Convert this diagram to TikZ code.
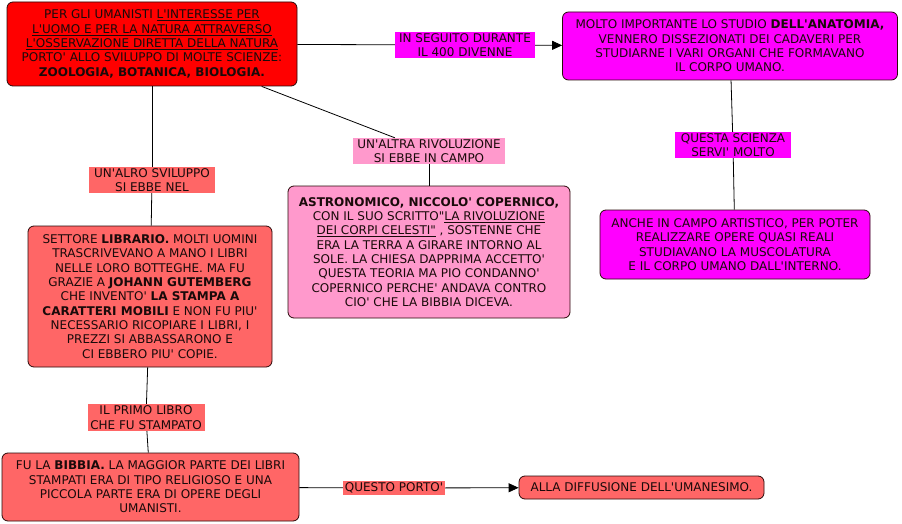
\documentclass[tikz,border=0pt]{standalone}
\usepackage{fontspec}
\newfontfamily\dv{DejaVu Sans}
\usetikzlibrary{arrows.meta}
\definecolor{cRed}{HTML}{FF0000}
\definecolor{cMag}{HTML}{FF00FF}
\definecolor{cPink}{HTML}{FF99CC}
\definecolor{cSal}{HTML}{FF6666}
\definecolor{cBord}{HTML}{2A0A0A}
\definecolor{cTxt}{HTML}{1A0A0A}
\newcommand\mainf{\dv\fontsize{12}{14.3}\selectfont}
\tikzset{
  box/.style={draw=cBord, line width=0.8pt, rounded corners=6pt, align=center,
    inner sep=0pt, text=cTxt, font=\mainf},
  lab/.style={inner sep=0pt, align=center, text=cTxt, font=\mainf},
  conn/.style={draw=black, line width=0.8pt},
  arr/.style={conn, -{Triangle[length=10pt,width=9pt]}}
}
\begin{document}
\begin{tikzpicture}[x=1pt,y=-1pt]
\useasboundingbox (0,0) rectangle (902,524);
\fill[white] (0,0) rectangle (902,524);

% boxes
\node[box, fill=cRed, minimum width=290pt, minimum height=84pt] (A) at (152,44)
  {PER GLI UMANISTI \underline{L'INTERESSE PER}\\
   \underline{L'UOMO E PER LA NATURA ATTRAVERSO}\\
   \underline{L'OSSERVAZIONE DIRETTA DELLA NATURA}\\
   PORTO' ALLO SVILUPPO DI MOLTE SCIENZE:\\
   \textbf{ZOOLOGIA, BOTANICA, BIOLOGIA.}};
\node[box, fill=cMag, minimum width=335pt, minimum height=68pt] (B) at (730,46)
  {MOLTO IMPORTANTE LO STUDIO \textbf{DELL'ANATOMIA,}\\
   VENNERO DISSEZIONATI DEI CADAVERI PER\\
   STUDIARNE I VARI ORGANI CHE FORMAVANO\\
   IL CORPO UMANO.};
\node[box, fill=cPink, minimum width=282pt, minimum height=132pt] (C) at (429,252)
  {\textbf{ASTRONOMICO, NICCOLO' COPERNICO,}\\
   CON IL SUO SCRITTO"\underline{LA RIVOLUZIONE}\\
   \underline{DEI CORPI CELESTI"} , SOSTENNE CHE\\
   ERA LA TERRA A GIRARE INTORNO AL\\
   SOLE. LA CHIESA DAPPRIMA ACCETTO'\\
   QUESTA TEORIA MA PIO CONDANNO'\\
   COPERNICO PERCHE' ANDAVA CONTRO\\
   CIO' CHE LA BIBBIA DICEVA.};
\node[box, fill=cSal, minimum width=244pt, minimum height=141pt] (D) at (150,296.5)
  {SETTORE \textbf{LIBRARIO.} MOLTI UOMINI\\
   TRASCRIVEVANO A MANO I LIBRI\\
   NELLE LORO BOTTEGHE. MA FU\\
   GRAZIE A \textbf{JOHANN GUTEMBERG}\\
   CHE INVENTO' \textbf{LA STAMPA A}\\
   \textbf{CARATTERI MOBILI} E NON FU PIU'\\
   NECESSARIO RICOPIARE I LIBRI, I\\
   PREZZI SI ABBASSARONO E\\
   CI EBBERO PIU' COPIE.};
\node[box, fill=cMag, minimum width=270pt, minimum height=69pt] (E) at (735,244.5)
  {ANCHE IN CAMPO ARTISTICO, PER POTER\\
   REALIZZARE OPERE QUASI REALI\\
   STUDIAVANO LA MUSCOLATURA\\
   E IL CORPO UMANO DALL'INTERNO.};
\node[box, fill=cSal, minimum width=297pt, minimum height=68pt] (F) at (150.5,487)
  {FU LA \textbf{BIBBIA.} LA MAGGIOR PARTE DEI LIBRI\\
   STAMPATI ERA DI TIPO RELIGIOSO E UNA\\
   PICCOLA PARTE ERA DI OPERE DEGLI\\
   UMANISTI.};
\node[box, fill=cSal, minimum width=245pt, minimum height=23pt] (G) at (641.5,487.5)
  {ALLA DIFFUSIONE DELL'UMANESIMO.};

% labels
\node[lab, fill=cMag, minimum width=140pt, minimum height=26pt] (L1) at (465,45)
  {IN SEGUITO DURANTE\\IL 400 DIVENNE};
\node[lab, fill=cPink, minimum width=152pt, minimum height=26pt] (L2) at (429,151)
  {UN'ALTRA RIVOLUZIONE\\SI EBBE IN CAMPO};
\node[lab, fill=cSal, minimum width=126pt, minimum height=26pt] (L3) at (152,180)
  {UN'ALRO SVILUPPO\\SI EBBE NEL};
\node[lab, fill=cSal, minimum width=117pt, minimum height=27pt] (L4) at (146,417.5)
  {IL PRIMO LIBRO\\CHE FU STAMPATO};
\node[lab, fill=cMag, minimum width=116pt, minimum height=26pt] (L5) at (733,145)
  {QUESTA SCIENZA\\SERVI' MOLTO};
\node[lab, fill=cSal, minimum width=102pt, minimum height=14pt] (L6) at (394,488)
  {QUESTO PORTO'};

% connectors
\draw[conn] (A) -- (L1);
\draw[arr] (L1) -- (B);
\draw[conn] (A) -- (L2);
\draw[conn] (L2) -- (C);
\draw[conn] (A) -- (L3);
\draw[conn] (L3) -- (D);
\draw[conn] (D) -- (L4);
\draw[conn] (L4) -- (F);
\draw[conn] (B) -- (L5);
\draw[conn] (L5) -- (E);
\draw[conn] (F) -- (L6);
\draw[arr] (L6) -- (G);
\end{tikzpicture}
\end{document}
